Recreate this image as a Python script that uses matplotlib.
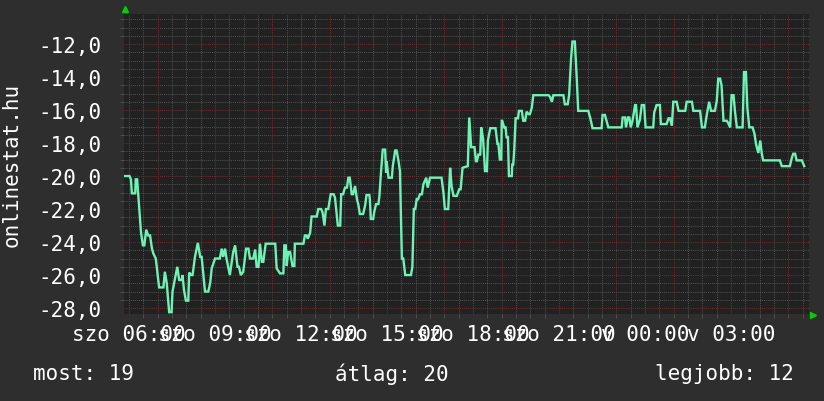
import numpy as np
import matplotlib
matplotlib.use("Agg")
import matplotlib.pyplot as plt
from matplotlib.lines import Line2D

# minutes since Saturday 06:00, and the (negated) online count
t_min = [-8, 1, 4, 6, 13, 14, 17, 21, 25, 29, 32, 36, 40, 44, 48, 51, 56, 63, 72, 75,
         79, 84, 89, 91, 101, 105, 110, 112, 115, 119, 124, 126, 130, 133, 138, 144, 149, 152, 159, 166,
         170, 173, 180, 190, 194, 197, 201, 204, 211, 218, 222, 227, 230, 234, 239, 245, 250, 253, 260, 264,
         267, 271, 274, 278, 281, 286, 306, 309, 316, 323, 325, 328, 330, 333, 337, 342, 346, 347, 365, 368,
         372, 374, 379, 382, 393, 396, 402, 405, 409, 412, 417, 422, 428, 431, 437, 442, 444, 448, 452, 456,
         459, 462, 466, 469, 473, 477, 480, 483, 490, 494, 497, 503, 504, 506, 511, 513, 517, 522, 524, 527,
         531, 536, 538, 539, 543, 550, 552, 557, 560, 564, 567, 571, 574, 578, 590, 593, 596, 599, 602, 605,
         609, 613, 616, 622, 625, 630, 654, 658, 661, 668, 672, 675, 679, 686, 691, 694, 698, 703, 709, 712,
         716, 723, 726, 728, 731, 735, 737, 741, 745, 749, 751, 756, 767, 771, 773, 776, 779, 780, 781, 785,
         788, 790, 793, 795, 801, 802, 804, 806, 809, 814, 816, 822, 825, 829, 832, 836, 839, 843, 846, 878,
         881, 885, 888, 909, 912, 918, 921, 925, 928, 933, 937, 940, 961, 965, 970, 989, 991, 996, 1003, 1031,
         1033, 1038, 1040, 1044, 1047, 1050, 1054, 1059, 1061, 1064, 1069, 1073, 1078, 1081, 1097, 1099, 1104, 1111, 1113, 1125,
         1129, 1132, 1136, 1139, 1146, 1150, 1164, 1167, 1178, 1181, 1195, 1199, 1205, 1209, 1214, 1218, 1226, 1230, 1233, 1237,
         1240, 1244, 1251, 1254, 1258, 1261, 1265, 1268, 1272, 1284, 1287, 1291, 1294, 1298, 1305, 1309, 1312, 1317, 1321, 1324,
         1327, 1362, 1366, 1383, 1387, 1390, 1394, 1397, 1408, 1413]
online = [-20.0, -20.0, -20.2, -21.05, -21.05, -20.2, -20.2, -21.8, -23.4, -24.2, -24.2, -23.25, -23.6, -23.6, -24.4, -24.7, -25.0, -26.75, -26.75, -25.8,
          -26.5, -28.25, -28.25, -27.0, -25.5, -26.3, -26.3, -26.0, -26.9, -27.55, -27.55, -25.85, -26.0, -26.0, -24.9, -24.05, -24.9, -24.9, -27.0, -27.0,
          -26.45, -25.6, -25.0, -25.0, -24.4, -24.9, -24.4, -25.0, -26.0, -24.6, -24.2, -25.5, -25.5, -26.0, -25.8, -24.4, -24.4, -25.0, -25.0, -24.45,
          -25.5, -25.5, -24.1, -25.2, -25.2, -24.1, -24.1, -25.6, -25.9, -25.9, -24.2, -24.2, -25.45, -24.6, -24.6, -25.45, -25.45, -24.1, -24.1, -23.6,
          -23.6, -23.8, -23.45, -22.45, -22.45, -22.0, -22.0, -22.2, -23.0, -22.0, -22.0, -21.1, -21.1, -21.3, -23.0, -23.0, -21.1, -21.1, -20.7, -20.7,
          -20.1, -20.1, -21.1, -21.1, -20.6, -21.4, -21.75, -22.3, -22.3, -21.8, -21.15, -21.15, -21.4, -22.6, -22.6, -22.2, -21.7, -21.7, -21.2, -19.9,
          -18.4, -18.4, -19.8, -19.1, -20.1, -20.1, -19.4, -18.45, -18.45, -19.1, -19.7, -25.0, -25.0, -26.0, -26.0, -25.5, -22.0, -22.0, -21.4, -21.4,
          -21.1, -21.1, -20.5, -20.1, -20.7, -20.1, -20.1, -21.0, -22.0, -22.0, -19.5, -20.6, -21.2, -21.2, -20.8, -20.8, -19.5, -19.45, -19.4, -16.45,
          -18.25, -18.25, -19.1, -19.1, -18.7, -18.7, -17.05, -17.75, -19.7, -19.7, -17.85, -17.1, -17.1, -18.05, -18.05, -19.0, -19.0, -16.65, -16.65, -17.05,
          -17.05, -17.65, -17.65, -20.0, -20.0, -19.3, -19.3, -18.5, -16.5, -16.5, -16.05, -16.05, -16.65, -16.65, -16.1, -16.25, -16.25, -15.85, -15.1, -15.1,
          -15.2, -15.5, -15.1, -15.1, -15.65, -15.65, -15.1, -12.9, -11.85, -11.85, -14.1, -16.05, -16.05, -16.45, -17.1, -17.1, -16.3, -16.3, -17.05, -17.05,
          -16.45, -16.45, -17.05, -16.45, -16.45, -17.05, -16.6, -15.7, -15.7, -17.05, -16.6, -15.7, -15.7, -17.05, -17.05, -16.15, -15.7, -15.7, -16.85, -16.85,
          -16.5, -16.5, -16.95, -15.5, -15.5, -16.05, -16.05, -15.5, -15.5, -16.05, -16.05, -17.05, -17.05, -16.3, -15.5, -16.05, -16.05, -15.45, -14.1, -14.1,
          -14.5, -16.65, -16.65, -16.8, -17.05, -15.1, -15.1, -16.05, -17.05, -17.05, -13.7, -13.7, -15.85, -17.05, -17.05, -17.45, -18.05, -18.6, -17.85, -18.6,
          -19.05, -19.05, -19.4, -19.4, -18.9, -18.65, -18.65, -19.05, -19.05, -19.4]

tick_pos = [0, 180, 360, 540, 720, 900, 1080, 1260]
tick_labels = ["szo 06:00", "szo 09:00", "szo 12:00", "szo 15:00",
               "szo 18:00", "szo 21:00", "v 00:00", "v 03:00"]
y_ticks = [-28, -26, -24, -22, -20, -18, -16, -14, -12]

BG = "#2e2e2e"
PLOT_BG = "#212121"
LINE = "#6ff2b6"
MINOR = "#4e4e4e"
MAJOR = "#6a2e2e"
FONT = "DejaVu Sans Mono"

fig = plt.figure(figsize=(8.24, 4.02), dpi=100, facecolor=BG)
ax = fig.add_axes([124 / 824, 1 - 315 / 402, 685 / 824, 300 / 402], facecolor=PLOT_BG)
ax.set_xlim(-10.5, 1423)
ax.set_ylim(-28.36, -10.18)

# grid: minor every 30 min / 0.5, major every 2 h (odd hours) / 2.0
dot = (0, (1, 1))
for x in np.arange(0, 1440, 30):
    if (x - 60) % 120 != 0:
        ax.axvline(x, color=MINOR, lw=0.75, ls=dot, zorder=1)
for y in np.arange(-28.0, -10.0, 0.5):
    if y % 2 != 0:
        ax.axhline(y, color=MINOR, lw=0.75, ls=dot, zorder=1)
for x in np.arange(60, 1440, 120):
    ax.axvline(x, color=MAJOR, lw=0.75, ls=dot, zorder=1)
for y in y_ticks:
    ax.axhline(y, color=MAJOR, lw=0.75, ls=dot, zorder=1)

ax.plot(t_min, online, color=LINE, lw=1.7, zorder=3, solid_joinstyle="miter")

for s in ax.spines.values():
    s.set_visible(False)

ax.set_xticks(tick_pos)
ax.set_xticklabels(tick_labels)
ax.set_yticks(y_ticks)
ax.set_yticklabels([f"{v:.1f}".replace(".", ",") for v in y_ticks])
ax.set_xticks(np.arange(0, 1440, 30), minor=True)
ax.set_yticks(np.arange(-28.0, -10.0, 0.5), minor=True)
ax.tick_params(axis="both", which="major", length=0, colors="white", labelsize=15)
ax.tick_params(axis="x", which="major", pad=7)
ax.tick_params(axis="y", which="major", pad=16)
ax.tick_params(axis="both", which="minor", length=3, width=0.7, color=MINOR)
for lab in ax.get_xticklabels() + ax.get_yticklabels():
    lab.set_fontfamily(FONT)

fig.text(12 / 824, 1 - 165 / 402, "onlinestat.hu", rotation=90, color="white",
         fontsize=15, family=FONT, ha="center", va="center")
fig.text(33 / 824, 1 - 374 / 402, "most: 19", color="white", fontsize=15,
         family=FONT, ha="left", va="center")
fig.text(392 / 824, 1 - 374 / 402, "átlag: 20", color="white", fontsize=15,
         family=FONT, ha="center", va="center")
fig.text(794 / 824, 1 - 374 / 402, "legjobb: 12", color="white", fontsize=15,
         family=FONT, ha="right", va="center")

# little green arrows at the axis ends
fig.add_artist(Line2D([125 / 824], [1 - 10 / 402], marker="^", markersize=5,
                      color="#00d000", transform=fig.transFigure))
fig.add_artist(Line2D([813 / 824], [1 - 316 / 402], marker=">", markersize=5,
                      color="#00d000", transform=fig.transFigure))

fig.savefig("out.png", dpi=100, facecolor=BG)
